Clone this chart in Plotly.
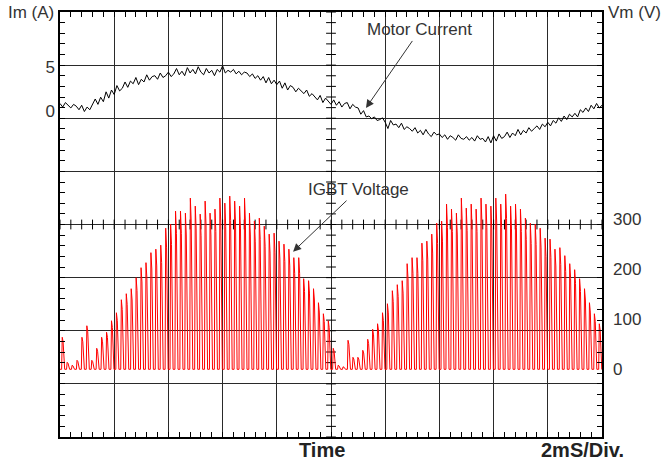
import numpy as np
import plotly.graph_objects as go

# ---------------- data ----------------
# Motor current (A), sampled every 0.1 ms over 20 ms (10 div x 2 ms)
motor_current_a = [
    0.9, 0.5, 1.0, 0.7, 0.4, 0.8, 0.6, 0.2, 0.7, 0.0,
    0.5, 0.2, 0.9, 1.4, 0.8, 1.6, 1.1, 2.2, 1.5, 2.4,
    1.9, 2.9, 2.3, 2.6, 3.3, 2.7, 3.4, 3.1, 3.8, 3.0,
    3.6, 3.3, 4.1, 3.5, 3.9, 4.0, 3.6, 4.3, 3.8, 4.0,
    4.4, 3.9, 4.2, 4.8, 4.1, 4.5, 4.0, 4.9, 4.3, 4.7,
    4.2, 5.0, 4.4, 4.1, 4.8, 4.3, 4.6, 4.0, 4.7, 4.4,
    5.1, 4.3, 4.6, 4.4, 4.7, 4.2, 4.5, 4.1, 4.4, 4.3,
    3.9, 4.2, 3.7, 4.0, 3.5, 3.9, 3.2, 3.8, 3.1, 3.5,
    3.0, 3.4, 2.6, 3.2, 2.4, 2.9, 2.7, 2.2, 2.6, 2.3,
    2.0, 2.4, 1.7, 2.0, 1.6, 1.3, 1.8, 1.0, 1.5, 1.2,
    0.8, 1.3, 0.7, 1.1, 0.5, 0.9, 1.0, 0.3, 0.8, 0.5,
    0.4, -0.3, 0.1, -0.6, -0.5, -0.8, -0.6, -1.0, -0.9, -0.7,
    -1.2, -1.9, -1.0, -1.5, -1.4, -1.8, -1.3, -2.0, -1.7, -1.9,
    -2.2, -1.8, -2.4, -2.1, -2.6, -2.0, -2.5, -2.8, -2.3, -2.6,
    -2.5, -2.9, -2.6, -3.1, -2.7, -2.9, -3.2, -2.6, -3.0, -3.1,
    -2.8, -3.2, -2.9, -3.3, -2.7, -3.1, -3.0, -3.4, -2.8, -3.5,
    -2.7, -3.3, -2.5, -3.0, -2.8, -2.3, -2.9, -2.4, -2.7, -2.0,
    -2.6, -2.1, -2.4, -1.8, -2.2, -1.9, -1.6, -2.0, -1.4, -1.7,
    -1.2, -1.6, -1.0, -1.3, -0.7, -1.1, -0.5, -0.9, -0.3, -0.6,
    -0.2, -0.6, 0.2, -0.1, 0.4, 0.0, 0.7, 0.3, 0.9, 0.4,
    0.7,
]
sample_step_ms = 0.1

# IGBT voltage: peak value (V) of each PWM pulse
igbt_pulse_peak_v = [
    64, 14, 8, 18, 64, 87, 18, 42, 64, 74,
    97, 113, 139, 151, 161, 183, 203, 213, 233, 240,
    248, 282, 290, 316, 316, 312, 342, 326, 310, 336,
    312, 320, 342, 332, 346, 336, 326, 342, 312, 296,
    302, 286, 270, 272, 256, 250, 240, 223, 223, 181,
    177, 161, 133, 111, 97, 42, 8, 5, 58, 24,
    24, 38, 60, 80, 91, 113, 131, 157, 169, 177,
    211, 223, 223, 252, 256, 270, 292, 296, 330, 320,
    312, 342, 322, 330, 320, 342, 330, 326, 342, 330,
    350, 326, 330, 320, 302, 292, 290, 282, 262, 260,
    240, 243, 227, 211, 199, 181, 161, 133, 111, 91,
]
switch_period_ms = 20.0 / 110
first_pulse_ms = 0.06

current_ticks = [0, 5]
voltage_ticks = [0, 100, 200, 300]

# scope graticule: 10 x 8 divisions, 5 minor ticks per division
n_div_x, n_div_y = 10, 8
ms_per_div = 2.0

# ---------------- build traces ----------------
t_current = np.arange(len(motor_current_a)) * sample_step_ms

tv, vv = [0.0], [0.0]
P = switch_period_ms
for k, pk in enumerate(igbt_pulse_peak_v):
    t0 = first_pulse_ms + k * P
    tv += [t0, t0 + 0.12 * P, t0 + 0.30 * P, t0 + 0.62 * P]
    vv += [0, pk, 0.86 * pk, 0]
tv.append(20.0)
vv.append(0.0)

FONT = "Liberation Sans, Arial, Helvetica, sans-serif"
TXT = "#333333"
GRID = "#2a2a2a"
x_end = n_div_x * ms_per_div

fig = go.Figure()
# centre cross-hair minor ticks (graticule decoration, on the division axis)
cx = np.arange(0, x_end + 1e-9, ms_per_div / 5)
cy = np.arange(0, n_div_y + 1e-9, 0.2)
fig.add_trace(go.Scatter(x=cx, y=[n_div_y / 2] * len(cx), mode="markers", xaxis="x", yaxis="y",
                         marker=dict(symbol="line-ns", size=7,
                                     line=dict(color="#000000", width=1)),
                         hoverinfo="skip", showlegend=False))
fig.add_trace(go.Scatter(x=[x_end / 2] * len(cy), y=cy, mode="markers", xaxis="x", yaxis="y",
                         marker=dict(symbol="line-ew", size=7,
                                     line=dict(color="#000000", width=1)),
                         hoverinfo="skip", showlegend=False))
fig.add_trace(go.Scatter(x=tv, y=vv, mode="lines", xaxis="x", yaxis="y3",
                         line=dict(color="#ff0000", width=1), hoverinfo="skip",
                         showlegend=False))
fig.add_trace(go.Scatter(x=t_current, y=motor_current_a, mode="lines", xaxis="x", yaxis="y2",
                         line=dict(color="#000000", width=1), hoverinfo="skip",
                         showlegend=False))

div_axis = dict(showgrid=True, gridcolor=GRID, gridwidth=1, zeroline=False,
                showline=True, linecolor="#000000", linewidth=1.5, mirror="ticks",
                ticks="inside", ticklen=5, tickcolor="#000000", tickwidth=1,
                showticklabels=False, fixedrange=True)

fig.update_layout(
    width=663, height=463,
    margin=dict(l=60, r=61, t=10, b=26),
    paper_bgcolor="white", plot_bgcolor="white",
    font=dict(family=FONT, size=17, color=TXT),
    xaxis=dict(range=[0, x_end], dtick=ms_per_div, tick0=0,
               minor=dict(dtick=ms_per_div / 5, tick0=0, ticks="inside", ticklen=5,
                          tickcolor="#000000", showgrid=False),
               **div_axis),
    yaxis=dict(range=[0, n_div_y], dtick=1, tick0=0,
               minor=dict(dtick=0.2, tick0=0, ticks="inside", ticklen=5,
                          tickcolor="#000000", showgrid=False),
               **div_axis),
    yaxis2=dict(overlaying="y", anchor="x", side="left", range=[-36.33, 11.11],
                tickmode="array", tickvals=current_ticks, ticktext=[str(v) for v in current_ticks],
                ticks="", showgrid=False, zeroline=False, showline=False,
                ticklabelstandoff=4, tickfont=dict(size=17, color=TXT), fixedrange=True),
    yaxis3=dict(overlaying="y", anchor="x", side="right", range=[-135.2, 713.7],
                tickmode="array", tickvals=voltage_ticks, ticktext=[str(v) for v in voltage_ticks],
                ticks="", showgrid=False, zeroline=False, showline=False,
                ticklabelstandoff=10, tickfont=dict(size=17, color=TXT), fixedrange=True),
    showlegend=False,
)

annotations = [
    dict(text="Im (A)", xref="paper", yref="paper", x=0, xshift=-4, y=1.0, xanchor="right",
         yanchor="middle", showarrow=False, font=dict(size=17, color=TXT)),
    dict(text="Vm (V)", xref="paper", yref="paper", x=1.0, xshift=4, y=1.0, xanchor="left",
         yanchor="middle", showarrow=False, font=dict(size=17, color=TXT)),
    dict(text="<b>Time</b>", xref="paper", yref="paper", x=0.5, xshift=-9, y=0, yshift=-13,
         xanchor="center", yanchor="middle", showarrow=False,
         font=dict(size=20, color="#222222")),
    dict(text="<b>2mS/Div.</b>", xref="paper", yref="paper", x=1.0, xshift=-20, y=0, yshift=-13,
         xanchor="center", yanchor="middle", showarrow=False,
         font=dict(size=20, color="#222222")),
    dict(text="Motor Current", xref="x", yref="y2", x=11.29, y=0.4,
         ax=54, ay=-78, showarrow=True, arrowhead=2, arrowsize=1.6, arrowwidth=1,
         arrowcolor="#333333", font=dict(size=17, color=TXT), standoff=0),
    dict(text="IGBT Voltage", xref="x", yref="y3", x=8.6, y=235,
         ax=65, ay=-62, showarrow=True, arrowhead=2, arrowsize=1.6, arrowwidth=1,
         arrowcolor="#333333", font=dict(size=17, color=TXT), standoff=0),
]
fig.update_layout(annotations=annotations)

fig.write_html("out.html", config={"displayModeBar": False},
               post_script="document.body.style.margin='0';")
